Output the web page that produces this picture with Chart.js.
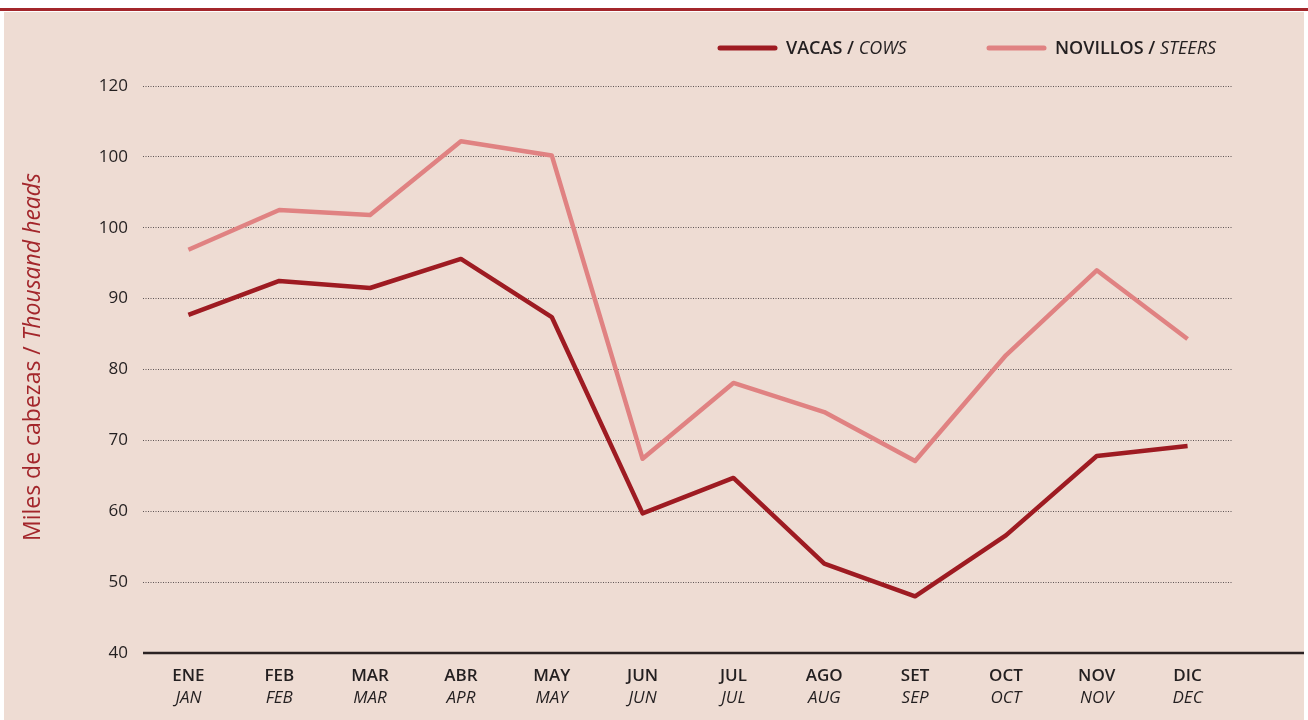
<!DOCTYPE html>
<html>
<head>
<meta charset="utf-8">
<script src="https://cdn.jsdelivr.net/npm/chart.js@4"></script>
<style>
  html, body { margin: 0; padding: 0; background: #fff; }
  canvas { display: block; }
</style>
</head>
<body>
<canvas id="lineChart" width="1308" height="720"></canvas>
<script>
const months = ['ENE', 'FEB', 'MAR', 'ABR', 'MAY', 'JUN', 'JUL', 'AGO', 'SET', 'OCT', 'NOV', 'DIC'];
const monthsEn = ['JAN', 'FEB', 'MAR', 'APR', 'MAY', 'JUN', 'JUL', 'AUG', 'SEP', 'OCT', 'NOV', 'DEC'];
const cows = [87.7, 92.5, 91.5, 95.6, 87.4, 59.7, 64.7, 52.6, 48.0, 56.6, 67.8, 69.2];
const steers = [96.9, 102.5, 101.8, 112.2, 110.2, 67.4, 78.1, 74.0, 67.1, 82.0, 94.0, 84.3];
// tick labels as printed in the original (the 110 line is labelled "100")
const yTickLabels = ['40', '50', '60', '70', '80', '90', '100', '100', '120'];

const COW_COLOR = '#9e1b22';
const STEER_COLOR = '#e08282';
const FONT = "'Open Sans', 'Noto Sans', sans-serif";

// background panel + red rule at the top
const backdrop = {
  id: 'backdrop',
  beforeDraw(chart) {
    const { ctx, width, height } = chart;
    ctx.save();
    ctx.fillStyle = '#ffffff';
    ctx.fillRect(0, 0, width, height);
    ctx.fillStyle = '#eedcd3';
    ctx.fillRect(4, 12, width - 8, height - 12);
    ctx.fillStyle = '#a3262b';
    ctx.fillRect(0, 8, width, 3);
    ctx.restore();
  }
};

// x axis line, rotated axis title and legend (mixed bold / italic text)
const extras = {
  id: 'extras',
  afterDraw(chart) {
    const { ctx, chartArea } = chart;
    ctx.save();

    // axis line
    ctx.strokeStyle = '#2b2323';
    ctx.lineWidth = 2.5;
    ctx.beginPath();
    ctx.moveTo(chartArea.left, chartArea.bottom);
    ctx.lineTo(chart.width - 4, chartArea.bottom);
    ctx.stroke();

    // y title
    ctx.translate(33, 357);
    ctx.rotate(-Math.PI / 2);
    ctx.fillStyle = '#a3262b';
    ctx.textBaseline = 'middle';
    const a = 'Miles de cabezas / ';
    const b = 'Thousand heads';
    ctx.font = `23px ${FONT}`;
    const wa = ctx.measureText(a).width;
    ctx.font = `italic 23px ${FONT}`;
    const wb = ctx.measureText(b).width;
    const x = -(wa + wb) / 2;
    ctx.font = `23px ${FONT}`;
    ctx.textAlign = 'left';
    ctx.fillText(a, x, 0);
    ctx.font = `italic 23px ${FONT}`;
    ctx.fillText(b, x + wa, 0);
    ctx.restore();

    // legend
    const items = [
      { color: COW_COLOR, bold: 'VACAS /', ital: ' COWS', x: 720 },
      { color: STEER_COLOR, bold: 'NOVILLOS /', ital: ' STEERS', x: 989 }
    ];
    ctx.save();
    ctx.textBaseline = 'middle';
    items.forEach(it => {
      ctx.strokeStyle = it.color;
      ctx.lineWidth = 5;
      ctx.lineCap = 'round';
      ctx.beginPath();
      ctx.moveTo(it.x, 48);
      ctx.lineTo(it.x + 55, 48);
      ctx.stroke();
      ctx.fillStyle = '#231f20';
      ctx.font = `600 18px ${FONT}`;
      ctx.fillText(it.bold, it.x + 66, 49);
      const w = ctx.measureText(it.bold).width;
      ctx.font = `italic 18px ${FONT}`;
      ctx.fillText(it.ital, it.x + 66 + w, 49);
    });
    ctx.restore();
  }
};

new Chart(document.getElementById('lineChart'), {
  type: 'line',
  data: {
    labels: months,
    datasets: [
      { label: 'VACAS / COWS', data: cows, borderColor: COW_COLOR, borderWidth: 4.5, pointRadius: 0, fill: false, tension: 0, borderJoinStyle: 'round' },
      { label: 'NOVILLOS / STEERS', data: steers, borderColor: STEER_COLOR, borderWidth: 4.5, pointRadius: 0, fill: false, tension: 0, borderJoinStyle: 'round' }
    ]
  },
  options: {
    responsive: false,
    animation: false,
    devicePixelRatio: 1,
    layout: { padding: { top: 86, right: 75, left: 0, bottom: 0 } },
    plugins: {
      legend: { display: false },
      tooltip: { enabled: false }
    },
    scales: {
      x: {
        type: 'category',
        position: 'bottom',
        weight: 0,
        offset: true,
        grid: { display: false, drawTicks: false },
        border: { display: false },
        ticks: { color: '#231f20', padding: 13, font: { family: FONT, size: 17, weight: '600' }, maxRotation: 0, autoSkip: false },
        afterFit(scale) { scale.height = 33; }
      },
      x2: {
        type: 'category',
        labels: monthsEn,
        position: 'bottom',
        weight: 1,
        offset: true,
        grid: { display: false, drawTicks: false },
        border: { display: false },
        ticks: { color: '#231f20', padding: 2, font: { family: FONT, size: 17, style: 'italic' }, maxRotation: 0, autoSkip: false },
        afterFit(scale) { scale.height = 34; }
      },
      y: {
        min: 40,
        max: 120,
        ticks: {
          stepSize: 10,
          padding: 15,
          color: '#231f20',
          font: { family: FONT, size: 17 },
          callback: (value, index) => yTickLabels[index]
        },
        grid: { color: '#5f5555', lineWidth: 1, drawTicks: false },
        border: { display: false, dash: [1, 1.5] },
        afterFit(scale) { scale.width = 143; }
      }
    }
  },
  plugins: [backdrop, extras]
});
</script>
</body>
</html>
